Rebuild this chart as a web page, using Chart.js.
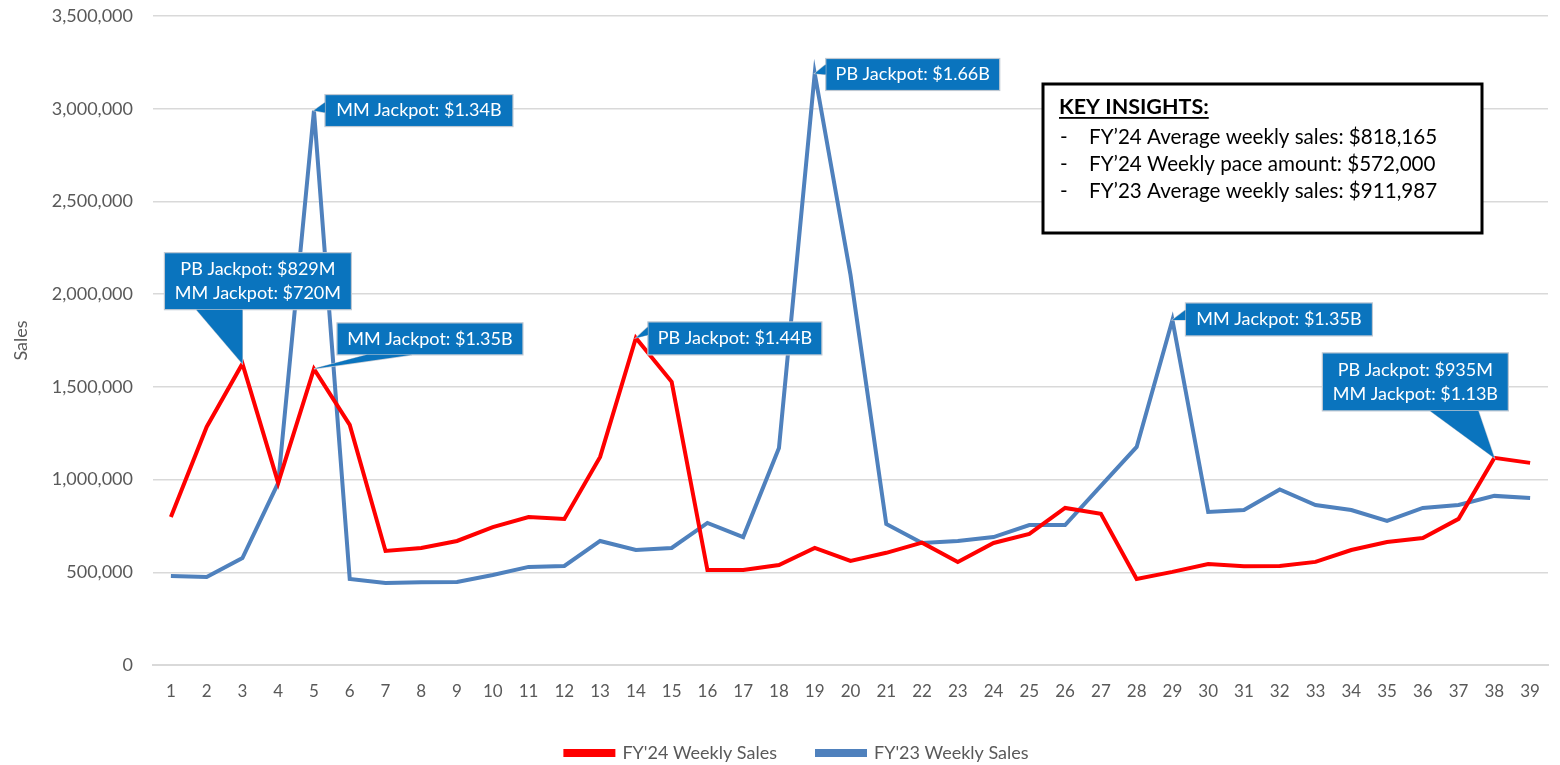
<!DOCTYPE html>
<html>
<head>
<meta charset="utf-8">
<script src="https://cdn.jsdelivr.net/npm/chart.js@4.4.1/dist/chart.umd.min.js"></script>
<style>
  html, body { margin: 0; padding: 0; background: #fff; }
</style>
</head>
<body>
<canvas id="salesChart" width="1560" height="765"></canvas>
<script>
// Weeks and weekly sales
const weeks = ["1","2","3","4","5","6","7","8","9","10","11","12","13","14","15","16","17","18","19","20",
  "21","22","23","24","25","26","27","28","29","30","31","32","33","34","35","36","37","38","39"];

const fy24Sales = [798000, 1284000, 1625000, 982000, 1597000, 1295000, 615000, 631000, 669000, 744000,
  798000, 788000, 1122000, 1764000, 1527000, 512000, 512000, 539000, 631000, 561000,
  605000, 660000, 556000, 658000, 707000, 847000, 815000, 464000, 502000, 545000,
  532000, 534000, 556000, 620000, 663000, 685000, 788000, 1117000, 1090000];

const fy23Sales = [480000, 475000, 577000, 982000, 2990000, 464000, 442000, 446000, 448000, 485000,
  529000, 534000, 669000, 620000, 631000, 766000, 690000, 1170000, 3190000, 2104000,
  760000, 658000, 669000, 690000, 755000, 755000, 966000, 1176000, 1861000, 825000,
  836000, 947000, 863000, 836000, 777000, 847000, 863000, 912000, 901000];

const yTicks = [0, 500000, 1000000, 1500000, 2000000, 2500000, 3000000, 3500000];

const insights = [
  "FY\u201924 Average weekly sales: $818,165",
  "FY\u201924 Weekly pace amount: $572,000",
  "FY\u201923 Average weekly sales: $911,987"
];

// Callouts: dataset index, week index, text lines; box/pointer offsets are relative to the point
const callouts = [
  { ds: 1, idx: 4, lines: ["MM Jackpot: $1.34B"], box: [11, -16, 188, 32], p1: [11, -8], p2: [11, 2] },
  { ds: 0, idx: 2, lines: ["PB Jackpot: $829M", "MM Jackpot: $720M"], box: [-78, -111, 187, 57], p1: [-46, -54], p2: [0, -54] },
  { ds: 0, idx: 4, lines: ["MM Jackpot: $1.35B"], box: [23, -46, 186, 32], p1: [53, -14], p2: [98, -14] },
  { ds: 1, idx: 18, lines: ["PB Jackpot: $1.66B"], box: [11, -15, 174, 32], p1: [11, -9], p2: [11, 1] },
  { ds: 0, idx: 13, lines: ["PB Jackpot: $1.44B"], box: [12, -16, 174, 33], p1: [12, -11], p2: [12, -3] },
  { ds: 1, idx: 28, lines: ["MM Jackpot: $1.35B"], box: [13, -17, 187, 33], p1: [13, -10], p2: [13, 0] },
  { ds: 0, idx: 37, lines: ["PB Jackpot: $935M", "MM Jackpot: $1.13B"], box: [-172, -105, 186, 58], p1: [-64, -47], p2: [-16, -47] }
];

const FONT = "Lato, 'Open Sans', sans-serif";

const calloutPlugin = {
  id: "callouts",
  afterLayout(chart) {
    // nudge the legend a bit to the right, like the original
    chart.legend.left += 23;
    chart.legend.right += 23;
  },
  afterDatasetsDraw(chart) {
    const c = chart.ctx;
    callouts.forEach(co => {
      const pt = chart.getDatasetMeta(co.ds).data[co.idx];
      const ax = pt.x, ay = pt.y;
      const [dx, dy, w, h] = co.box;
      const bx = ax + dx, by = ay + dy;
      c.save();
      c.fillStyle = "#0A74BE";
      c.strokeStyle = "#BFC8D2";
      c.lineWidth = 1.2;
      // pointer
      c.beginPath();
      c.moveTo(ax, ay);
      c.lineTo(ax + co.p1[0], ay + co.p1[1]);
      c.lineTo(ax + co.p2[0], ay + co.p2[1]);
      c.closePath();
      c.fill();
      c.stroke();
      // box
      c.fillRect(bx, by, w, h);
      c.strokeRect(bx, by, w, h);
      // cover pointer seam
      c.beginPath();
      c.moveTo(ax, ay);
      c.lineTo(ax + co.p1[0], ay + co.p1[1]);
      c.lineTo(ax + co.p2[0], ay + co.p2[1]);
      c.closePath();
      c.fill();
      c.fillStyle = "#fff";
      c.font = "18px " + FONT;
      c.textAlign = "center";
      c.textBaseline = "middle";
      const lh = 24;
      const y0 = by + h / 2 - (co.lines.length - 1) * lh / 2;
      co.lines.forEach((t, i) => c.fillText(t, bx + w / 2, y0 + i * lh));
      c.restore();
    });

    // Key insights box
    c.save();
    c.fillStyle = "#fff";
    c.fillRect(1043, 84, 439, 149);
    c.strokeStyle = "#000";
    c.lineWidth = 3;
    c.strokeRect(1043, 84, 439, 149);
    c.fillStyle = "#000";
    c.textBaseline = "alphabetic";
    c.textAlign = "left";
    c.font = "bold 21.5px " + FONT;
    const title = "KEY INSIGHTS:";
    c.fillText(title, 1059, 114);
    const tw = c.measureText(title).width;
    c.fillRect(1059, 117, tw, 1.8);
    c.font = "20.6px " + FONT;
    insights.forEach((t, i) => {
      c.fillText("-", 1060, 144 + i * 27);
      c.fillText(t, 1089, 144 + i * 27);
    });
    c.restore();
  }
};

new Chart(document.getElementById("salesChart"), {
  type: "line",
  data: {
    labels: weeks,
    datasets: [
      {
        label: "FY'24 Weekly Sales",
        data: fy24Sales,
        borderColor: "#FF0000",
        backgroundColor: "#FF0000",
        borderWidth: 4,
        pointRadius: 0,
        tension: 0
      },
      {
        label: "FY'23 Weekly Sales",
        data: fy23Sales,
        borderColor: "#4F81BD",
        backgroundColor: "#4F81BD",
        borderWidth: 4,
        pointRadius: 0,
        tension: 0
      }
    ]
  },
  options: {
    responsive: false,
    animation: false,
    layout: { padding: { top: 16, right: 12, left: 0, bottom: -7 } },
    plugins: {
      legend: {
        position: "bottom",
        labels: {
          boxWidth: 48,
          boxHeight: 4,
          padding: 40,
          color: "#595959",
          font: { family: FONT, size: 18 }
        }
      },
      tooltip: { enabled: false }
    },
    scales: {
      x: {
        offset: true,
        grid: { display: false, drawTicks: false },
        border: { display: true, color: "#D9D9D9", width: 2 },
        afterFit(scale) {
          scale.height = 39;
        },
        ticks: {
          color: "#595959",
          font: { family: FONT, size: 17 },
          padding: 16,
          maxRotation: 0,
          autoSkip: false
        }
      },
      y: {
        min: 0,
        max: 3500000,
        afterBuildTicks(scale) {
          scale.ticks = yTicks.map(v => ({ value: v }));
        },
        afterFit(scale) {
          scale.width = 153;
        },
        grid: { color: "#D9D9D9", lineWidth: 1.5, drawTicks: true, tickLength: 20, tickColor: "rgba(0,0,0,0)" },
        border: { display: false },
        title: {
          display: true,
          text: "Sales",
          color: "#595959",
          font: { family: FONT, size: 18 },
          padding: { top: 10, bottom: 0 }
        },
        ticks: {
          color: "#595959",
          font: { family: FONT, size: 18 },
          padding: 0,
          callback: v => v.toLocaleString("en-US")
        }
      }
    }
  },
  plugins: [calloutPlugin]
});
</script>
</body>
</html>
